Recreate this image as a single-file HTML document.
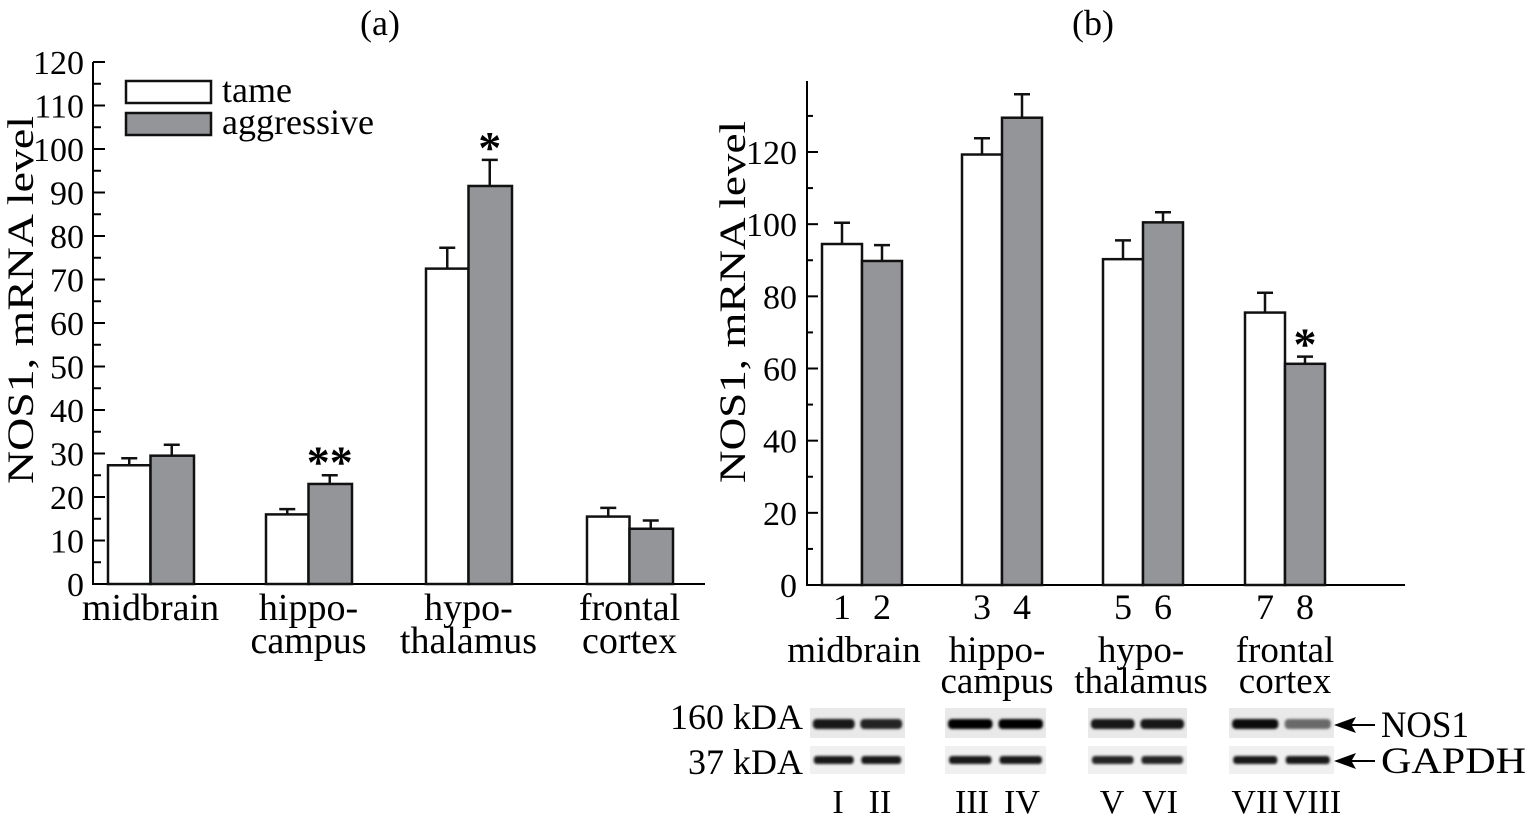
<!DOCTYPE html>
<html><head><meta charset="utf-8"><style>
html,body{margin:0;padding:0;background:#fff}
svg{display:block;font-family:"Liberation Serif",serif}
</style></head><body>
<svg id="fig" width="1529" height="817" viewBox="0 0 1529 817">
<defs><filter id="blur" x="-20%" y="-100%" width="140%" height="300%"><feGaussianBlur stdDeviation="1.4"/></filter></defs>
<g id="pa"></g>
<g id="pb"></g>
<g id="blot"></g>
</svg>
<script>
const NS="http://www.w3.org/2000/svg";
// Panel (a) data
const catsA=["midbrain","hippocampus","hypothalamus","frontal cortex"];
const tameA=[27.3,16,72.5,15.5];
const aggrA=[29.5,23,91.5,12.7];
const tameErrA=[1.6,1.2,4.8,2.0];
const aggrErrA=[2.5,2.0,6.0,1.9];
const ticksA=[0,10,20,30,40,50,60,70,80,90,100,110,120];
// Panel (b) data
const catsB=["midbrain","hippocampus","hypothalamus","frontal cortex"];
const tameB=[94.5,119.3,90.3,75.5];
const aggrB=[89.8,129.5,100.5,61.3];
const tameErrB=[5.9,4.5,5.2,5.5];
const aggrErrB=[4.4,6.5,2.8,2.0];
const ticksB=[0,20,40,60,80,100,120];
const laneNums=["1","2","3","4","5","6","7","8"];
const romans=["I","II","III","IV","V","VI","VII","VIII"];
const nosInt=[0.9,0.85,1,1,0.9,0.9,0.95,0.55];
const gapInt=[0.9,0.9,0.9,0.9,0.85,0.85,0.9,0.9];

function el(parent,tag,attrs,text){const e=document.createElementNS(NS,tag);for(const k in attrs)e.setAttribute(k,attrs[k]);if(text!==undefined)e.textContent=text;parent.appendChild(e);return e;}

// ---- Panel A ----
const pa=document.getElementById('pa');
const yA=v=>584-v*(584-62)/120;
const groupXA=[108,266,426,587];
const bwA=42.5;
let t=el(pa,'text',{x:380,y:35,'font-size':36,'text-anchor':'middle'},'(a)');

let ax=el(pa,'line',{x1:93,y1:yA(0),x2:93,y2:yA(120),stroke:'#000','stroke-width':2});

let xa=el(pa,'line',{x1:92,y1:yA(0),x2:705,y2:yA(0),stroke:'#000','stroke-width':2});

for(let v=0;v<=120;v+=5){const l=el(pa,'line',{x1:93,y1:yA(v),x2:93+(v%10===0?12:8),y2:yA(v),stroke:'#000','stroke-width':2});}
ticksA.forEach(v=>{const e=el(pa,'text',{x:84,y:yA(v)+12,'font-size':34,'text-anchor':'end'},String(v));});
t=el(pa,'text',{transform:'translate(33,300) rotate(-90)','font-size':37,'text-anchor':'middle',textLength:368,lengthAdjust:'spacingAndGlyphs'},'NOS1, mRNA level');

function bar(g,x,w,y0,y1,fill,name){const r=el(g,'rect',{x:x,y:y1,width:w,height:y0-y1,fill:fill,stroke:'#111','stroke-width':2.5});}
function err(g,cx,ytop,yerr,name){const e=el(g,'path',{d:`M${cx},${ytop}V${yerr}M${cx-8},${yerr}H${cx+8}`,stroke:'#111','stroke-width':2.5,fill:'none'});}
catsA.forEach((c,i)=>{const x=groupXA[i];
 bar(pa,x,bwA,yA(0),yA(tameA[i]),'#fff','bar-tame-'+i);
 bar(pa,x+bwA,bwA+1,yA(0),yA(aggrA[i]),'#939598','bar-aggressive-'+i);
 err(pa,x+bwA/2,yA(tameA[i]),yA(tameA[i]+tameErrA[i]),'error-bar-tame-'+i);
 err(pa,x+bwA*1.5,yA(aggrA[i]),yA(aggrA[i]+aggrErrA[i]),'error-bar-aggressive-'+i);
});
const labA=[["midbrain"],["hippo-","campus"],["hypo-","thalamus"],["frontal","cortex"]];
labA.forEach((ls,i)=>ls.forEach((s,j)=>{const e=el(pa,'text',{x:groupXA[i]+bwA,y:620+j*33,'font-size':38,'text-anchor':'middle'},s);}));
t=el(pa,'text',{x:groupXA[1]+bwA*1.5,y:yA(aggrA[1]+aggrErrA[1])+2,'font-size':46,'font-weight':'bold','text-anchor':'middle'},'**');

t=el(pa,'text',{x:groupXA[2]+bwA*1.5,y:yA(aggrA[2]+aggrErrA[2])+3,'font-size':46,'font-weight':'bold','text-anchor':'middle'},'*');

// legend
let lg=el(pa,'rect',{x:126,y:81,width:85,height:22,fill:'#fff',stroke:'#111','stroke-width':2.5});
lg=el(pa,'rect',{x:126,y:113,width:85,height:22,fill:'#939598',stroke:'#111','stroke-width':2.5});
t=el(pa,'text',{x:222,y:102,'font-size':36},'tame');
t=el(pa,'text',{x:222,y:134,'font-size':36},'aggressive');

// ---- Panel B ----
const pb=document.getElementById('pb');
const yB=v=>585-v*(585-152)/120;
const groupXB=[822,962,1103,1245];
const bwB=40;
t=el(pb,'text',{x:1093,y:35,'font-size':36,'text-anchor':'middle'},'(b)');

ax=el(pb,'line',{x1:807,y1:yB(0),x2:807,y2:81,stroke:'#000','stroke-width':2});

xa=el(pb,'line',{x1:806,y1:yB(0),x2:1405,y2:yB(0),stroke:'#000','stroke-width':2});

for(let v=0;v<=130;v+=10){const l=el(pb,'line',{x1:807,y1:yB(v),x2:807+(v%20===0?11:6),y2:yB(v),stroke:'#000','stroke-width':2});}
ticksB.forEach(v=>{const e=el(pb,'text',{x:797,y:yB(v)+12,'font-size':34,'text-anchor':'end'},String(v));});
t=el(pb,'text',{transform:'translate(745,302) rotate(-90)','font-size':37,'text-anchor':'middle',textLength:362,lengthAdjust:'spacingAndGlyphs'},'NOS1, mRNA level');

catsB.forEach((c,i)=>{const x=groupXB[i];
 bar(pb,x,bwB,yB(0),yB(tameB[i]),'#fff','bar-tame-b-'+i);
 bar(pb,x+bwB,bwB,yB(0),yB(aggrB[i]),'#939598','bar-aggressive-b-'+i);
 err(pb,x+bwB/2,yB(tameB[i]),yB(tameB[i]+tameErrB[i]),'error-bar-tame-b-'+i);
 err(pb,x+bwB*1.5,yB(aggrB[i]),yB(aggrB[i]+aggrErrB[i]),'error-bar-aggressive-b-'+i);
 [0,1].forEach(k=>{const e=el(pb,'text',{x:x+bwB/2+k*bwB,y:619,'font-size':36,'text-anchor':'middle'},laneNums[i*2+k]);});
});
const labB=[["midbrain"],["hippo-","campus"],["hypo-","thalamus"],["frontal","cortex"]];
const labOffB=[-8,-5,-2,0];
labB.forEach((ls,i)=>ls.forEach((s,j)=>{const e=el(pb,'text',{x:groupXB[i]+bwB+labOffB[i],y:662+j*31,'font-size':37,'text-anchor':'middle'},s);}));
t=el(pb,'text',{x:groupXB[3]+bwB*1.5,y:yB(aggrB[3]+aggrErrB[3])+3,'font-size':46,'font-weight':'bold','text-anchor':'middle'},'*');


// ---- Blot ----
const bl=document.getElementById('blot');
const blotX=[[810,905],[945,1046],[1088,1187],[1229,1334]];
const romanX=[838,880,972,1022,1112,1160,1255,1312];
blotX.forEach((b,i)=>{
 let r=el(bl,'rect',{x:b[0],y:708,width:b[1]-b[0],height:30,fill:'#e9e9e9'});
 r=el(bl,'rect',{x:b[0],y:746,width:b[1]-b[0],height:28,fill:'#f0f0f0'});
 const w=(b[1]-b[0])/2;
 [0,1].forEach(k=>{const cx=b[0]+w*k+w/2;const n=i*2+k;
  let e=el(bl,'rect',{x:cx-w*0.44,y:719,width:w*0.88,height:10,rx:4,fill:'#000','fill-opacity':nosInt[n],filter:'url(#blur)'});
  e=el(bl,'rect',{x:cx-w*0.42,y:756,width:w*0.84,height:8,rx:3,fill:'#000','fill-opacity':gapInt[n],filter:'url(#blur)'});
  e=el(bl,'text',{x:romanX[n],y:813,'font-size':34,'text-anchor':'middle'},romans[n]);
 });
});
t=el(bl,'text',{x:803,y:729,'font-size':36,'text-anchor':'end'},'160 kDA');
t=el(bl,'text',{x:803,y:774,'font-size':36,'text-anchor':'end'},'37 kDA');
[[725,'NOS1',88],[761,'GAPDH',145]].forEach(([y,s,L])=>{
 let a=el(bl,'path',{d:`M1334,${y}L1356,${y-8}L1352,${y-1}H1375V${y+1}H1352L1356,${y+8}Z`,fill:'#000'});
 const e=el(bl,'text',{x:1381,y:y+12,'font-size':37,textLength:L,lengthAdjust:'spacingAndGlyphs'},s);
});
</script>
</body></html>
